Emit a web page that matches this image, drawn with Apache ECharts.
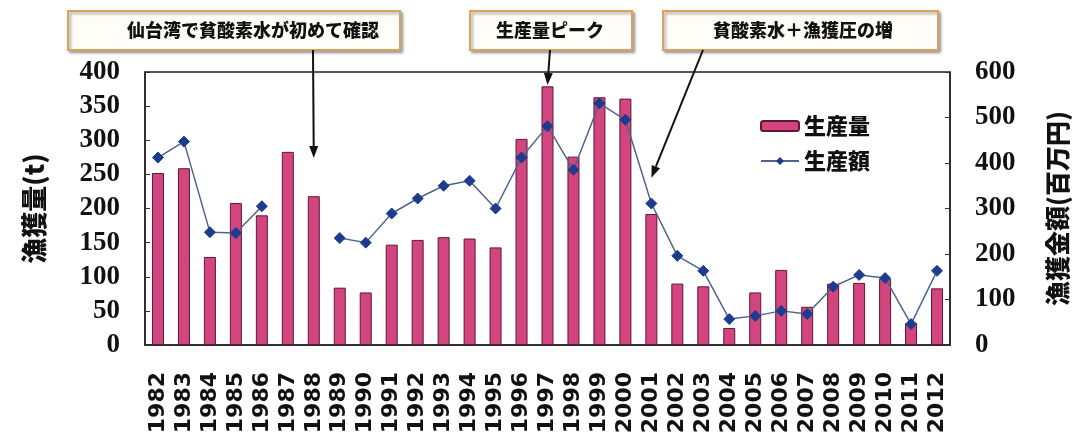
<!DOCTYPE html>
<html><head><meta charset="utf-8">
<script src="https://cdn.jsdelivr.net/npm/echarts@6/dist/echarts.min.js"></script>
<style>html,body{margin:0;padding:0;background:#fff}#c{width:1078px;height:443px}</style>
</head><body><div id="c"></div>
<script>
const years = ['1982','1983','1984','1985','1986','1987','1988','1989','1990','1991','1992','1993','1994','1995','1996','1997','1998','1999','2000','2001','2002','2003','2004','2005','2006','2007','2008','2009','2010','2011','2012'];
const production = [252,259,129,208,190,283,218,84,77,147,154,158,156,143,302,379,276,363,361,192,90,86,25,77,110,56,90,91,97,32,83];
const productionValue = [412,447,248,246,305,null,null,235,225,289,322,350,361,300,412,481,385,531,495,311,196,163,57,64,75,68,128,154,147,46,163];
const leftTicks = {min:0,max:400,interval:50};
const rightTicks = {min:0,max:600,interval:100};
const notes = [
  {text:'仙台湾で貧酸素水が初めて確認', year:'1988', value:274},
  {text:'生産量ピーク', year:'1997', value:381},
  {text:'貧酸素水＋漁獲圧の増', year:'2001', value:245}
];

const chart = echarts.init(document.getElementById('c'));
const jp = '"Noto Sans CJK JP", sans-serif';
const serif = '"Liberation Serif", "DejaVu Serif", serif';
chart.setOption({
  animation:false,
  backgroundColor:'#fff',
  grid:{left:145,right:123,top:72,bottom:98,show:true,borderColor:'#222',borderWidth:1.5},
  legend:{
    orient:'vertical',left:755,top:110,itemWidth:38,itemHeight:10,itemGap:13,
    textStyle:{fontFamily:jp,fontWeight:900,fontSize:22,color:'#111',lineHeight:22},
    data:['生産量','生産額']
  },
  xAxis:{
    type:'category',data:years,boundaryGap:true,
    axisLine:{lineStyle:{color:'#222',width:1.5}},
    axisTick:{inside:true,length:7,lineStyle:{color:'#333'}},
    axisLabel:{rotate:90,margin:27,interval:0,fontFamily:'"DejaVu Sans", sans-serif',fontWeight:'bold',fontSize:22,color:'#111'}
  },
  yAxis:[
    {type:'value',min:leftTicks.min,max:leftTicks.max,interval:leftTicks.interval,position:'left',
     name:'漁獲量(t)',nameLocation:'middle',nameRotate:90,nameGap:98,
     nameTextStyle:{fontFamily:jp,fontWeight:900,fontSize:26,color:'#111'},
     axisLine:{show:true,lineStyle:{color:'#222',width:1.5}},
     axisTick:{show:true,inside:true,length:5,lineStyle:{color:'#333'}},
     splitLine:{show:false},
     axisLabel:{margin:25,fontFamily:serif,fontWeight:'bold',fontSize:27,color:'#111'}},
    {type:'value',min:rightTicks.min,max:rightTicks.max,interval:rightTicks.interval,position:'right',
     name:'漁獲金額(百万円)',nameLocation:'middle',nameRotate:90,nameGap:95,
     nameTextStyle:{fontFamily:jp,fontWeight:900,fontSize:25,color:'#111'},
     axisLine:{show:true,lineStyle:{color:'#222',width:1.5}},
     axisTick:{show:true,inside:true,length:5,lineStyle:{color:'#333'}},
     splitLine:{show:false},
     axisLabel:{margin:25,align:'left',fontFamily:serif,fontWeight:'bold',fontSize:27,color:'#111'}}
  ],
  series:[
    {name:'生産量',type:'bar',data:production,barWidth:12,yAxisIndex:0,
     itemStyle:{color:'#d3457f',borderColor:'#5e1834',borderWidth:1}},
    {name:'生産額',type:'line',data:productionValue,yAxisIndex:1,connectNulls:false,
     symbol:'diamond',symbolSize:11,
     lineStyle:{color:'#51648f',width:1.5},
     itemStyle:{color:'#1d3c8e',borderColor:'#1d3c8e'}}
  ]
});

const boxes = [
  {x:68,y:11,w:332,h:39,tx:253,sx:313,sy:50},
  {x:470,y:11,w:162,h:39,tx:550,sx:550,sy:50},
  {x:663,y:11,w:275,h:39,tx:803,sx:703,sy:50}
];
const els = [];
notes.forEach((n,i)=>{
  const b = boxes[i];
  els.push({type:'rect',shape:{x:b.x,y:b.y,width:b.w,height:b.h},
    style:{fill:'#fffdf7',stroke:'#d9a35c',lineWidth:2,shadowBlur:3,shadowOffsetX:2,shadowOffsetY:2,shadowColor:'rgba(0,0,0,0.35)'},z:10});
  els.push({type:'text',x:b.tx,y:b.y+b.h/2,style:{text:n.text,fontFamily:jp,fontWeight:900,fontSize:18,fill:'#111',align:'center',verticalAlign:'middle'},z:11});
  const tip = chart.convertToPixel({xAxisIndex:0,yAxisIndex:0},[n.year,n.value]);
  const dx = tip[0]-b.sx, dy = tip[1]-b.sy, L = Math.sqrt(dx*dx+dy*dy);
  const ux = dx/L, uy = dy/L, hl = 12, hw = 4.5;
  const bx = tip[0]-ux*hl, by = tip[1]-uy*hl;
  els.push({type:'line',shape:{x1:b.sx,y1:b.sy,x2:bx,y2:by},style:{stroke:'#111',lineWidth:2},z:12});
  els.push({type:'polygon',shape:{points:[[tip[0],tip[1]],[bx-uy*hw,by+ux*hw],[bx+uy*hw,by-ux*hw]]},style:{fill:'#111'},z:12});
});
chart.setOption({graphic:{elements:els}});
</script></body></html>
